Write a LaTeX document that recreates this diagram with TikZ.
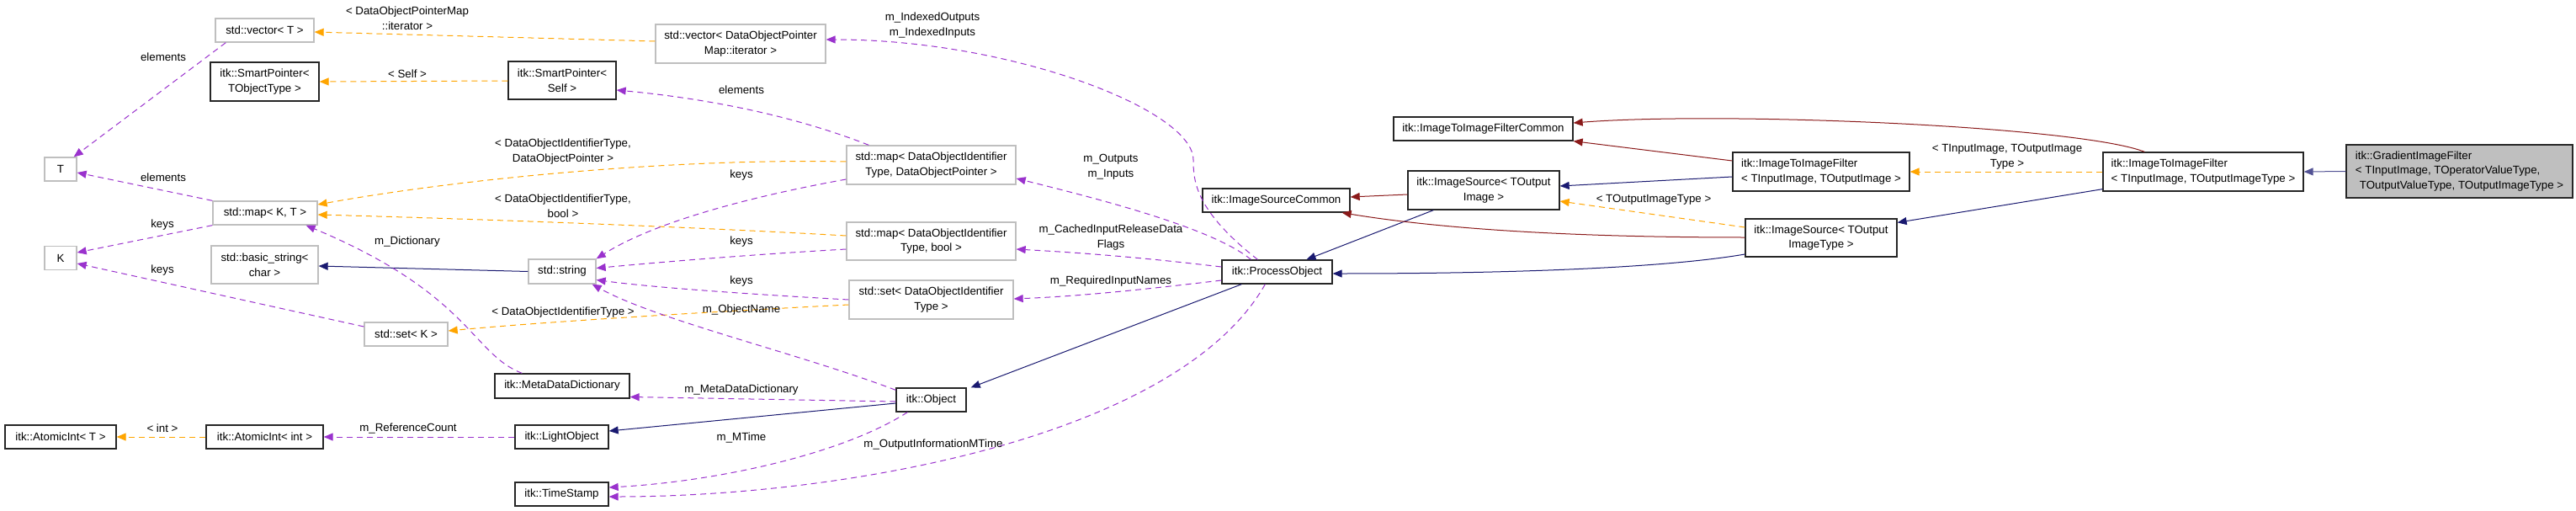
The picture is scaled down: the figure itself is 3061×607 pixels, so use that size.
\documentclass[tikz,border=0pt]{standalone}
\usepackage{fontspec}
\setmainfont{Liberation Sans}
\usetikzlibrary{arrows.meta,calc}
\definecolor{mblue}{RGB}{25,25,112}
\definecolor{fred}{RGB}{139,26,26}
\definecolor{orng}{RGB}{255,165,0}
\definecolor{purp}{RGB}{154,50,205}
\definecolor{graybd}{RGB}{191,191,191}
\definecolor{gradfill}{RGB}{191,191,191}
\newcommand\dxfont{\fontsize{13.3pt}{17.7pt}\selectfont}
\tikzset{
  cls/.style={draw=black!85, line width=1.3pt, fill=white, inner sep=2pt, font=\dxfont, align=center},
  ucls/.style={cls, draw=graybd},
  lcls/.style={cls, align=left},
  tip/.style={-{Triangle[length=11pt,width=9pt]}},
  pub/.style={draw=mblue, line width=1pt, tip},
  prv/.style={draw=fred, line width=1pt, tip},
  tmpl/.style={draw=orng, line width=1pt, dash pattern=on 7pt off 5pt, tip},
  use/.style={draw=purp, line width=1pt, dash pattern=on 7pt off 5pt, tip},
  lbl/.style={font=\dxfont, align=center, inner sep=0pt}
}
\begin{document}
\begin{tikzpicture}[x=1pt,y=-1pt]
\useasboundingbox[fill=white] (0,0) rectangle (3061,607);
% nodes
\node[ucls, minimum width=117, minimum height=28] (vecT) at (314.5,36) {std::vector< T >};
\node[cls, minimum width=129, minimum height=46] (spTO) at (314.5,97) {itk::SmartPointer<\\TObjectType >};
\node[cls, minimum width=128, minimum height=45] (spSelf) at (668,95.5) {itk::SmartPointer<\\Self >};
\node[ucls, minimum width=38, minimum height=28] (T) at (72,201) {T};
\node[ucls, minimum width=124, minimum height=28] (mapKT) at (315,253) {std::map< K, T >};
\node[ucls, minimum width=38, minimum height=28] (K) at (72,306.5) {K};
\node[ucls, minimum width=127, minimum height=45] (bstr) at (314.5,314.5) {std::basic\_string<\\char >};
\node[ucls, minimum width=80, minimum height=29] (str) at (668,322.5) {std::string};
\node[ucls, minimum width=99, minimum height=28] (setK) at (482.5,397) {std::set< K >};
\node[cls, minimum width=160, minimum height=29] (mdd) at (668,458.5) {itk::MetaDataDictionary};
\node[cls, minimum width=132, minimum height=28] (aiT) at (72,519) {itk::AtomicInt< T >};
\node[cls, minimum width=139, minimum height=28] (aiInt) at (314.5,519) {itk::AtomicInt< int >};
\node[cls, minimum width=111, minimum height=28] (lo) at (667.5,519) {itk::LightObject};
\node[cls, minimum width=111, minimum height=28] (ts) at (667.5,587) {itk::TimeStamp};
\node[ucls, minimum width=202, minimum height=46] (vecDOP) at (880,52) {std::vector< DataObjectPointer\\Map::iterator >};
\node[ucls, minimum width=201, minimum height=46] (mapDOP) at (1106.5,196) {std::map< DataObjectIdentifier\\Type, DataObjectPointer >};
\node[ucls, minimum width=201, minimum height=45] (mapBool) at (1106.5,286.5) {std::map< DataObjectIdentifier\\Type, bool >};
\node[ucls, minimum width=195, minimum height=46] (setDOI) at (1106.5,356) {std::set< DataObjectIdentifier\\Type >};
\node[cls, minimum width=83, minimum height=28] (obj) at (1106.5,475) {itk::Object};
\node[cls, minimum width=175, minimum height=28] (isc) at (1516.5,238) {itk::ImageSourceCommon};
\node[cls, minimum width=131, minimum height=28] (po) at (1517.5,323) {itk::ProcessObject};
\node[cls, minimum width=213, minimum height=28] (itifc) at (1762.5,153) {itk::ImageToImageFilterCommon};
\node[cls, minimum width=180, minimum height=46] (isO) at (1763,226) {itk::ImageSource< TOutput\\Image >};
\node[lcls, minimum width=210, minimum height=46] (itif1) at (2164,204) {itk::ImageToImageFilter\\< TInputImage, TOutputImage >};
\node[cls, minimum width=180, minimum height=45] (isOT) at (2164,282.5) {itk::ImageSource< TOutput\\ImageType >};
\node[lcls, minimum width=238, minimum height=46] (itif2) at (2618,204) {itk::ImageToImageFilter\\< TInputImage, TOutputImageType >};
\node[lcls, fill=gradfill, minimum width=269, minimum height=63] (grad) at (2922.5,203.5) {itk::GradientImageFilter\\< TInputImage, TOperatorValueType,\\\hspace{5pt}TOutputValueType, TOutputImageType >};
% public inheritance
\draw[pub, draw=mblue!75] (grad.west) -- (itif2.east);
\draw[pub] ($(itif2.south west)+(0,-3)$) -- ($(isOT.north east)+(0,5)$);
\draw[pub] ($(itif1.west)+(0,6)$) -- ($(isO.east)+(0,-5)$);
\draw[pub] ($(isO.south west)+(31,0)$) -- ($(po.north)+(35,0)$);
\draw[pub] ($(isOT.west)+(0,19.5)$) .. controls (1980,318) and (1800,325) .. ($(po.east)+(0,2)$);
\draw[pub] ($(po.south west)+(24,0)$) -- ($(obj.north east)+(5,0)$);
\draw[pub] ($(obj.west)+(0,4)$) -- ($(lo.east)+(0,-7)$);
\draw[pub] (str.west) -- ($(bstr.east)+(0,1.5)$);
% private inheritance
\draw[prv] ($(itif2.north west)+(50,0)$) .. controls (2470,150) and (2050,132) .. ($(itifc.east)+(0,-7)$);
\draw[prv] ($(itif1.west)+(0,-13)$) -- (itifc.south east);
\draw[prv] ($(isO.west)+(0,5)$) -- ($(isc.east)+(0,-4)$);
\draw[prv] ($(isOT.west)+(0,-0.5)$) .. controls (1850,282) and (1700,270) .. ($(isc.south east)+(-10,0)$);
% template instances
\draw[tmpl] (itif2.west) -- (itif1.east);
\draw[tmpl] ($(isOT.west)+(0,-12.5)$) -- ($(isO.east)+(0,13)$);
\draw[tmpl] ($(vecDOP.west)+(0,-3)$) -- ($(vecT.east)+(0,2)$);
\draw[tmpl] ($(spSelf.west)+(0,0.5)$) -- (spTO.east);
\draw[tmpl] ($(mapDOP.west)+(0,-4)$) .. controls (800,188) and (550,212) .. ($(mapKT.east)+(0,-10)$);
\draw[tmpl] ($(mapBool.west)+(0,-6.5)$) .. controls (850,271) and (600,261) .. ($(mapKT.east)+(0,2)$);
\draw[tmpl] ($(setDOI.west)+(0,6)$) .. controls (850,370) and (650,382) .. ($(setK.east)+(0,-4)$);
\draw[tmpl] (aiInt.west) -- (aiT.east);
% usage
\draw[use] ($(vecT.south west)+(13,0)$) -- ($(T.north east)+(-4,0)$);
\draw[use] (mapKT.north west) -- ($(T.east)+(0,4)$);
\draw[use] (mapKT.south west) -- ($(K.east)+(0,-6.5)$);
\draw[use] ($(setK.west)+(0,-9)$) -- ($(K.east)+(0,6.5)$);
\draw[use] ($(mapDOP.north west)+(27,0)$) .. controls (950,140) and (850,118) .. ($(spSelf.east)+(0,11.5)$);
\draw[use] ($(mapDOP.west)+(0,17)$) .. controls (900,232) and (780,262) .. (str.north east);
\draw[use] ($(mapBool.west)+(0,9.5)$) .. controls (900,302) and (800,310) .. ($(str.east)+(0,-4)$);
\draw[use] (setDOI.west) .. controls (900,350) and (780,342) .. ($(str.east)+(0,10)$);
\draw[use] ($(obj.north west)+(0,3)$) .. controls (950,420) and (780,380) .. ($(str.south east)+(-5,0)$);
\draw[use] ($(mdd.north west)+(33,0)$) .. controls (560,420) and (560,350) .. ($(mapKT.south east)+(-14,0)$);
\draw[use] ($(obj.west)+(0,2)$) -- ($(mdd.east)+(0,13)$);
\draw[use] (lo.west) -- (aiInt.east);
\draw[use] ($(obj.south west)+(14,0)$) .. controls (1000,540) and (850,572) .. ($(ts.east)+(0,-8)$);
\draw[use] ($(po.south west)+(52,0)$) .. controls (1400,520) and (1000,590) .. ($(ts.east)+(0,3)$);
\draw[use] ($(po.north)+(-23,0)$) .. controls (1420,250) and (1418,215) .. (1418,190) .. controls (1418,130) and (1200,47) .. ($(vecDOP.east)+(0,-5)$);
\draw[use] ($(po.north)+(-31,0)$) .. controls (1440,270) and (1300,235) .. ($(mapDOP.east)+(0,16)$);
\draw[use] ($(po.west)+(0,-6)$) .. controls (1350,305) and (1280,300) .. ($(mapBool.east)+(0,9.5)$);
\draw[use] ($(po.west)+(0,10)$) .. controls (1350,345) and (1280,352) .. ($(setDOI.east)+(0,-1)$);
% labels
\node[lbl] (l15) at (484,22) {< DataObjectPointerMap\\::iterator >};
\node[lbl] (l21) at (194,68) {elements};
\node[lbl] (l16) at (484,88) {< Self >};
\node[lbl] (l25) at (881,107) {elements};
\node[lbl] (l35) at (1108,30) {m\_IndexedOutputs\\m\_IndexedInputs};
\node[lbl] (l17) at (669,180) {< DataObjectIdentifierType,\\DataObjectPointer >};
\node[lbl] (l36) at (1320,198) {m\_Outputs\\m\_Inputs};
\node[lbl] (l26) at (881,208) {keys};
\node[lbl] (l22) at (194,211) {elements};
\node[lbl] (l18) at (669,245) {< DataObjectIdentifierType,\\bool >};
\node[lbl] (l14) at (1965,237) {< TOutputImageType >};
\node[lbl] (l13) at (2385,186) {< TInputImage, TOutputImage\\Type >};
\node[lbl] (l23) at (193,267) {keys};
\node[lbl] (l37) at (1320,282) {m\_CachedInputReleaseData\\Flags};
\node[lbl] (l27) at (881,287) {keys};
\node[lbl] (l30) at (484,287) {m\_Dictionary};
\node[lbl] (l24) at (193,321) {keys};
\node[lbl] (l28) at (881,334) {keys};
\node[lbl] (l38) at (1320,334) {m\_RequiredInputNames};
\node[lbl] (l29) at (881,368) {m\_ObjectName};
\node[lbl] (l19) at (669,371) {< DataObjectIdentifierType >};
\node[lbl] (l31) at (881,463) {m\_MetaDataDictionary};
\node[lbl] (l20) at (193,509) {< int >};
\node[lbl] (l32) at (485,509) {m\_ReferenceCount};
\node[lbl] (l33) at (881,520) {m\_MTime};
\node[lbl] (l34) at (1109,528) {m\_OutputInformationMTime};
\end{tikzpicture}
\end{document}
